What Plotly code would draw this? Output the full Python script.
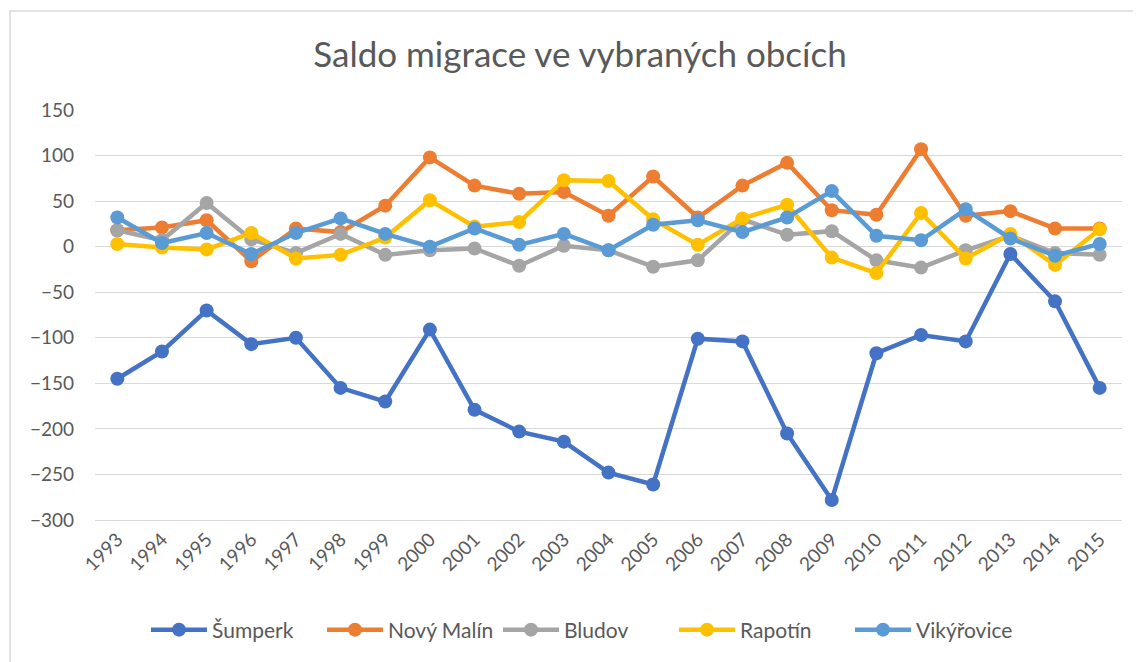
import plotly.graph_objects as go

years = [str(y) for y in range(1993, 2016)]
sumperk = [-145, -115, -70, -107, -100, -155, -170, -91, -179, -203, -214, -248,
           -261, -101, -104, -205, -278, -117, -97, -104, -8, -60, -155]
novy_malin = [18, 21, 29, -16, 20, 16, 45, 98, 67, 58, 60, 34,
              77, 32, 67, 92, 40, 35, 107, 34, 39, 20, 20]
bludov = [18, 7, 48, 8, -7, 14, -9, -4, -2, -21, 1, -4,
          -22, -15, 30, 13, 17, -15, -23, -4, 12, -7, -9]
rapotin = [3, -1, -3, 15, -13, -9, 10, 51, 22, 27, 73, 72,
           30, 2, 31, 46, -12, -29, 37, -13, 14, -20, 19]
vikyrovice = [32, 4, 15, -8, 15, 31, 14, 0, 20, 2, 14, -4,
              24, 29, 16, 32, 61, 12, 7, 41, 9, -10, 3]

series = [
    ("Šumperk", sumperk, "#4472C4"),
    ("Nový Malín", novy_malin, "#ED7D31"),
    ("Bludov", bludov, "#A5A5A5"),
    ("Rapotín", rapotin, "#FFC000"),
    ("Vikýřovice", vikyrovice, "#5B9BD5"),
]

fig = go.Figure()
for name, vals, color in series:
    fig.add_trace(go.Scatter(
        x=years, y=vals, name=name, mode="lines+markers",
        line=dict(color=color, width=4.5),
        marker=dict(color=color, size=14),
    ))

W, H = 1141, 662
ml, mr, mt, mb = 87, 27, 102, 150
pw, ph = W - ml - mr, H - mt - mb

fig.update_layout(
    width=W, height=H,
    margin=dict(l=ml, r=mr, t=mt, b=mb, autoexpand=False),
    paper_bgcolor="white", plot_bgcolor="white",
    font=dict(family="Lato, Open Sans, sans-serif", color="#595959"),
    title=dict(text="Saldo migrace ve vybraných obcích", xref="container",
               x=(580 - 8) / W, xanchor="center", y=1 - 47 / H, yanchor="middle",
               font=dict(size=35, color="#595959")),
    xaxis=dict(type="category", range=[-0.5, len(years) - 0.5], tickangle=-45,
               tickfont=dict(size=19), showgrid=False, showline=True,
               linecolor="#D9D9D9", ticks="", automargin=False),
    yaxis=dict(range=[-300, 150], dtick=50, tickfont=dict(size=19),
               gridcolor="#D9D9D9", gridwidth=1, zeroline=False,
               showline=False, ticks="", ticklabelstandoff=20, automargin=False),
    legend=dict(orientation="h", x=(586 - 8 - ml) / pw, xanchor="center",
                y=-(622 - (H - mb)) / ph, yanchor="middle", font=dict(size=21),
                itemwidth=56, entrywidth=105, entrywidthmode="pixels"),
    shapes=[dict(type="rect", xref="paper", yref="paper",
                 x0=-(ml - 2) / pw, x1=1 + (mr + 20) / pw,
                 y0=-(mb + 20) / ph, y1=1 + (mt - 3) / ph,
                 line=dict(color="#D9D9D9", width=1.5))],
)

fig.write_html("out.html")
